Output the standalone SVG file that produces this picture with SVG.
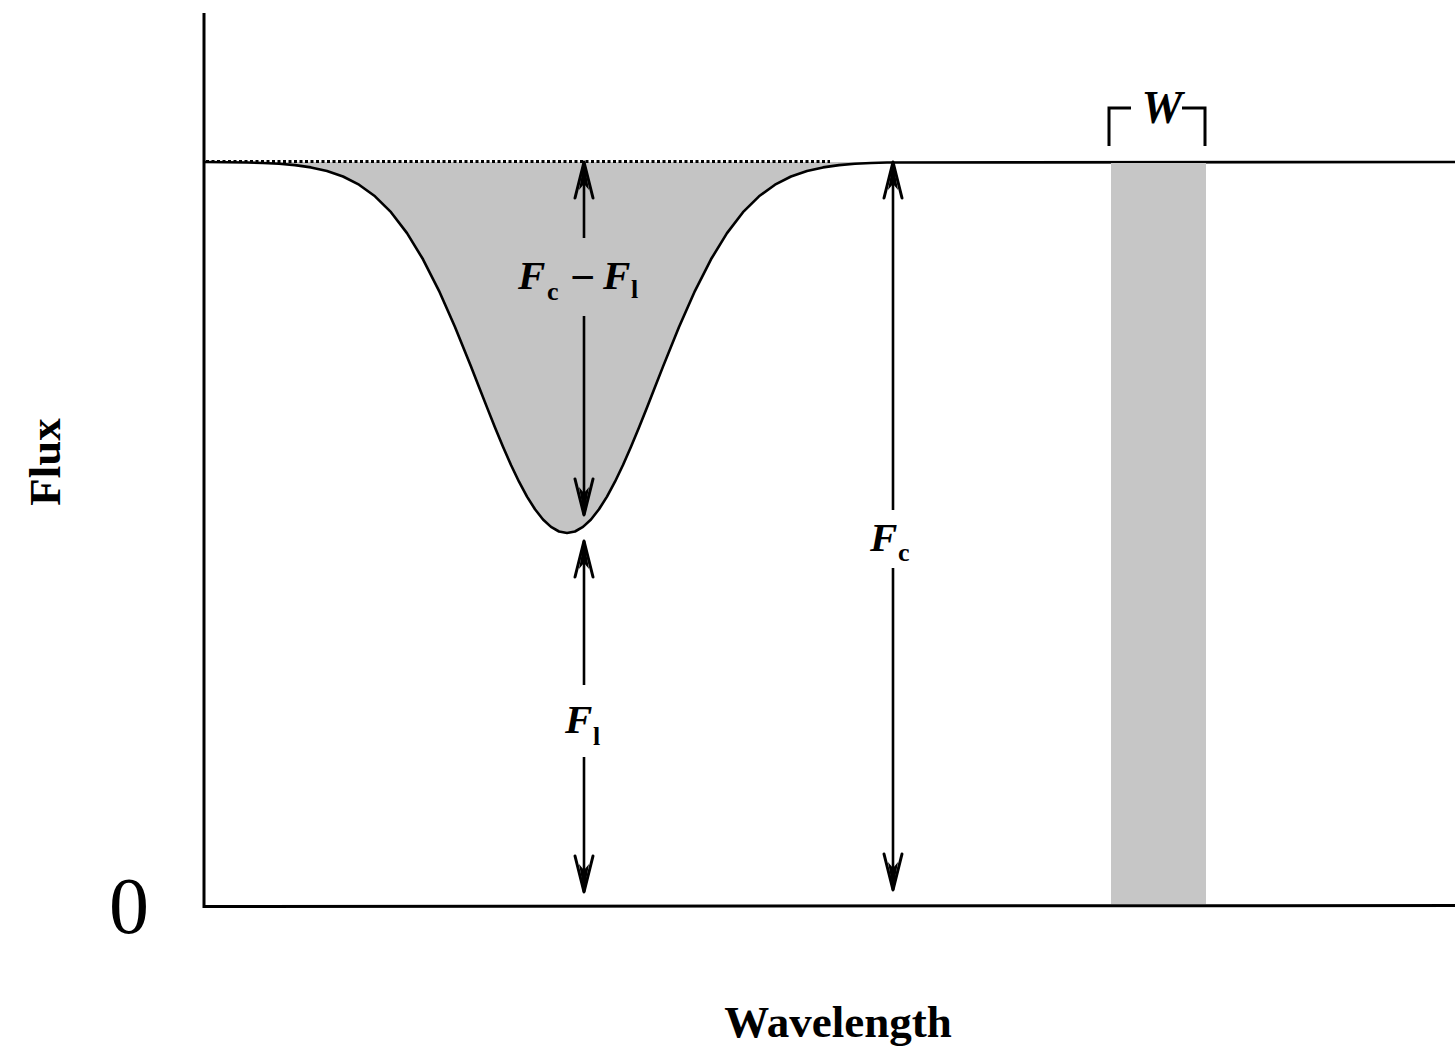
<svg xmlns="http://www.w3.org/2000/svg" width="1455" height="1046" viewBox="0 0 1455 1046">
  <style>
    .ax { stroke: #000; stroke-width: 3; fill: none; }
    .ln { stroke: #000; stroke-width: 2.6; fill: none; }
    .lab { font-family: "Liberation Serif", "Times New Roman", serif; font-weight: bold; fill: #000; }
    .F { font-style: italic; font-size: 41px; }
    .sub { font-size: 26px; }
  </style>
  <defs>
    <marker id="ah" markerUnits="userSpaceOnUse" viewBox="-40 -14 44 28" markerWidth="44" markerHeight="28" refX="0" refY="0" orient="auto-start-reverse">
      <path d="M-36,-9 L0,0 L-36,9" fill="none" stroke="#000" stroke-width="3" stroke-linejoin="round" stroke-linecap="round"/>
      <path d="M0,0 L-28,-5 L-22,0 L-28,5 Z" fill="#000"/>
    </marker>
  </defs>

  <g id="absorption-line">
    <path d="M247,162 L247,162.5 L263,162.95 L279,163.75 L295,165.1 L311,167.4 L327,171 L343,176.5 L359,184.7 L375,196.3 L391,212.2 L407,233.1 L423,259.3 L439,290.8 L455,327.1 L471,366.6 L479,387 L487,407.4 L495,427.5 L503,446.8 L511,465 L519,481.7 L527,496.6 L535,509.3 L543,519.5 L551,526.9 L559,531.5 L567,533 L575,531.5 L583,526.9 L591,519.5 L599,509.3 L607,496.6 L615,481.7 L623,465 L631,446.8 L639,427.5 L647,407.4 L655,387 L663,366.6 L679,327.1 L695,290.8 L711,259.3 L727,233.1 L743,212.2 L759,196.3 L775,184.7 L791,176.5 L807,171 L823,167.4 L839,165.1 L855,163.75 L871,162.95 L887,162.5 L887,162 Z" fill="#c4c4c4" stroke="none"/>
    <line x1="206" y1="161.5" x2="830" y2="161.5" stroke="#000" stroke-width="2.8" stroke-dasharray="3 2.5"/>
    <path class="ln" stroke-linejoin="round" d="M204,162 L247,162.5 L263,162.95 L279,163.75 L295,165.1 L311,167.4 L327,171 L343,176.5 L359,184.7 L375,196.3 L391,212.2 L407,233.1 L423,259.3 L439,290.8 L455,327.1 L471,366.6 L479,387 L487,407.4 L495,427.5 L503,446.8 L511,465 L519,481.7 L527,496.6 L535,509.3 L543,519.5 L551,526.9 L559,531.5 L567,533 L575,531.5 L583,526.9 L591,519.5 L599,509.3 L607,496.6 L615,481.7 L623,465 L631,446.8 L639,427.5 L647,407.4 L655,387 L663,366.6 L679,327.1 L695,290.8 L711,259.3 L727,233.1 L743,212.2 L759,196.3 L775,184.7 L791,176.5 L807,171 L823,167.4 L839,165.1 L855,163.75 L871,162.95 L887,162.5 L1455,162"/>
  </g>

  <g id="equivalent-width-band">
    <rect x="1111" y="163" width="95" height="741" fill="#c6c6c6"/>
    <path class="ax" d="M1109,146 L1109,108 L1131,108 M1182,108 L1205,108 L1205,146" stroke-width="2.8"/>
    <text class="lab" x="1162" y="123" text-anchor="middle" style="font-style:italic;font-size:46px">W</text>
  </g>

  <g id="axes">
    <line class="ax" x1="204" y1="13" x2="204" y2="908"/>
    <line class="ax" x1="203" y1="906.5" x2="1455" y2="905.5"/>
    <text class="lab" x="129" y="933" text-anchor="middle" style="font-size:80px;font-weight:normal">0</text>
    <text class="lab" x="838" y="1037" text-anchor="middle" style="font-size:45px">Wavelength</text>
    <text class="lab" transform="translate(60,462) rotate(-90)" text-anchor="middle" style="font-size:45px">Flux</text>
  </g>

  <g id="connectors">
    <line class="ln" x1="584" y1="162" x2="584" y2="238" marker-start="url(#ah)"/>
    <line class="ln" x1="584" y1="316" x2="584" y2="515" marker-end="url(#ah)"/>
    <line class="ln" x1="584" y1="541" x2="584" y2="685" marker-start="url(#ah)"/>
    <line class="ln" x1="584" y1="757" x2="584" y2="892" marker-end="url(#ah)"/>
    <line class="ln" x1="893" y1="162" x2="893" y2="510" marker-start="url(#ah)"/>
    <line class="ln" x1="893" y1="568" x2="893" y2="890" marker-end="url(#ah)"/>
  </g>

  <g id="label-fc-minus-fl">
    <text class="lab F" x="518" y="289">F</text>
    <text class="lab sub" x="547" y="300">c</text>
    <text class="lab" x="570" y="292" style="font-size:44px">−</text>
    <text class="lab F" x="603" y="289">F</text>
    <text class="lab sub" x="631" y="298">l</text>
  </g>
  <g id="label-fl">
    <text class="lab F" x="565" y="733">F</text>
    <text class="lab sub" x="593" y="745">l</text>
  </g>
  <g id="label-fc">
    <text class="lab F" x="870" y="551">F</text>
    <text class="lab sub" x="898" y="561">c</text>
  </g>
</svg>
